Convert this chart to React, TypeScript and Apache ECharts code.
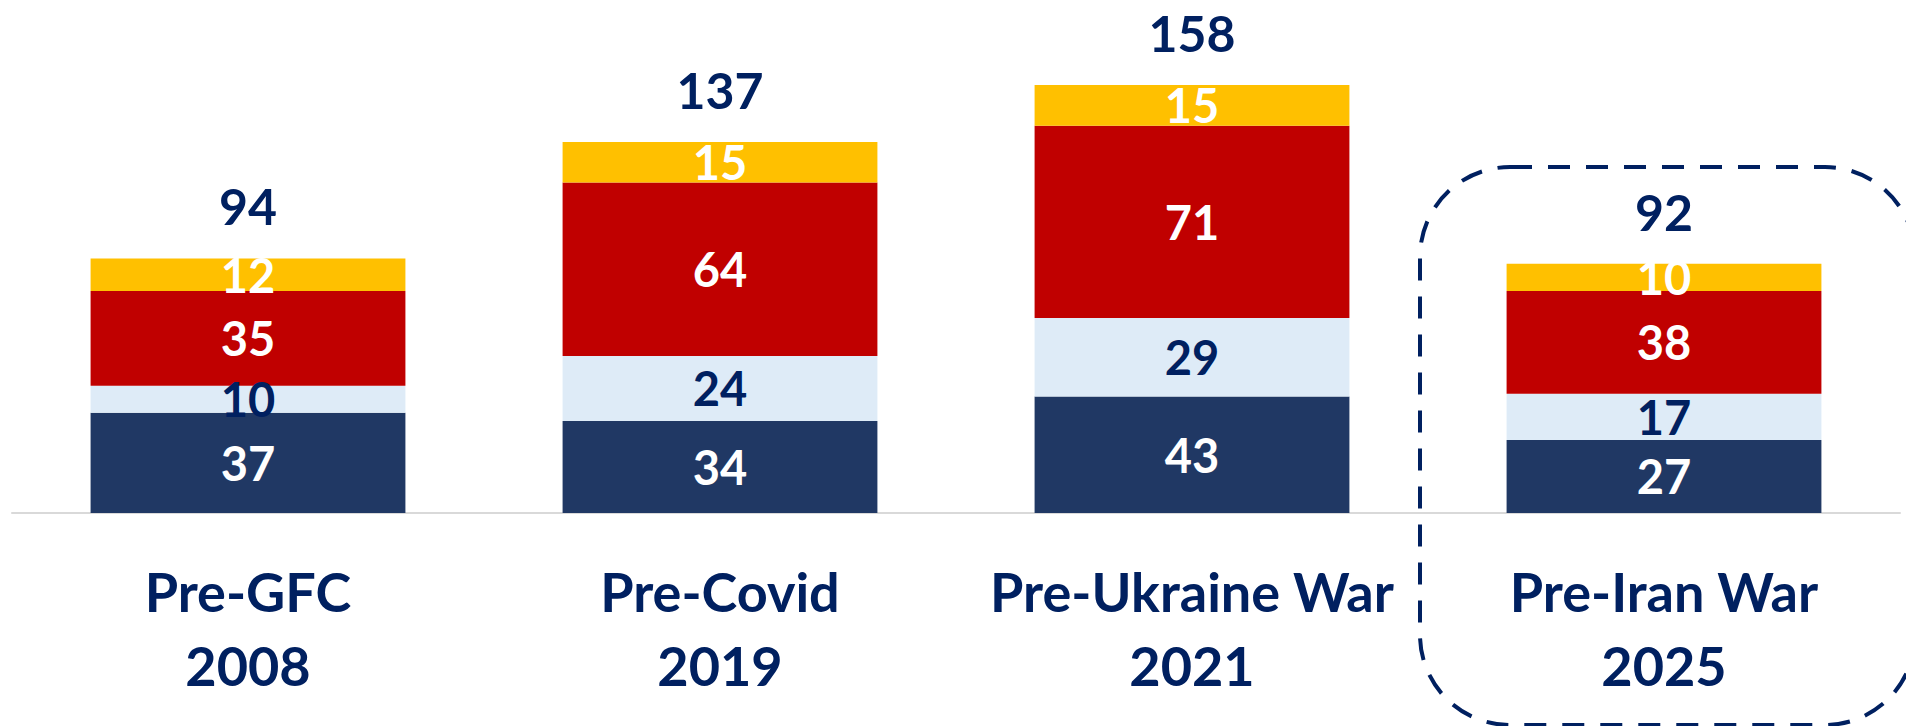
import React, { useEffect, useRef } from "react";
import * as echarts from "echarts";

const categories = ["Pre-GFC\n2008", "Pre-Covid\n2019", "Pre-Ukraine War\n2021", "Pre-Iran War\n2025"];
const navyValues = [37, 34, 43, 27];
const lightBlueValues = [10, 24, 29, 17];
const redValues = [35, 64, 71, 38];
const yellowValues = [12, 15, 15, 10];
const totals = [94, 137, 158, 92];

const FONT = "Lato";
const TEXT_NAVY = "#002060";

export default function App() {
  const ref = useRef<HTMLDivElement>(null);

  useEffect(() => {
    if (!ref.current) return;
    const chart = echarts.init(ref.current, undefined, { renderer: "svg" });

    const segLabel = (color: string) => ({
      show: true,
      position: "inside",
      color,
      fontFamily: FONT,
      fontWeight: "bold",
      fontSize: 47,
    });

    const mkBar = (name: string, data: number[], color: string, labelColor: string) => ({
      name,
      type: "bar",
      stack: "total",
      data,
      barWidth: "66.7%",
      itemStyle: { color },
      label: segLabel(labelColor),
    });

    chart.setOption({
      animation: false,
      grid: { left: 12, right: 6, top: 12, bottom: 213, containLabel: false },
      xAxis: {
        type: "category",
        data: categories,
        axisLine: { show: true, lineStyle: { color: "#D9D9D9", width: 2 } },
        axisTick: { show: false },
        axisLabel: {
          color: TEXT_NAVY,
          fontFamily: FONT,
          fontWeight: "bold",
          fontSize: 54,
          lineHeight: 74,
          margin: 41,
          interval: 0,
        },
      },
      yAxis: {
        type: "value",
        min: 0,
        max: 185,
        show: false,
        splitLine: { show: false },
      },
      series: [
        mkBar("Segment 1", navyValues, "#203864", "#FFFFFF"),
        mkBar("Segment 2", lightBlueValues, "#DEEBF7", TEXT_NAVY),
        mkBar("Segment 3", redValues, "#C00000", "#FFFFFF"),
        mkBar("Segment 4", yellowValues, "#FFC000", "#FFFFFF"),
        {
          name: "Total",
          type: "scatter",
          data: totals,
          symbolSize: 0,
          itemStyle: { color: TEXT_NAVY, opacity: 1 },
          label: {
            show: true,
            position: "top",
            distance: 27,
            color: TEXT_NAVY,
            opacity: 1,
            fontFamily: FONT,
            fontWeight: "bold",
            fontSize: 50,
          },
          emphasis: { disabled: true },
          z: 5,
        },
      ],
      graphic: [
        {
          type: "rect",
          shape: { x: 1420, y: 167, width: 495, height: 558, r: 90 },
          style: {
            fill: "none",
            stroke: TEXT_NAVY,
            lineWidth: 4,
            lineDash: [22, 16],
          },
          z: 10,
        },
      ],
    });

    return () => chart.dispose();
  }, []);

  return (
    <div
      ref={ref}
      style={{ position: "fixed", left: 0, top: 0, width: 1906, height: 726, background: "#FFFFFF" }}
    />
  );
}
